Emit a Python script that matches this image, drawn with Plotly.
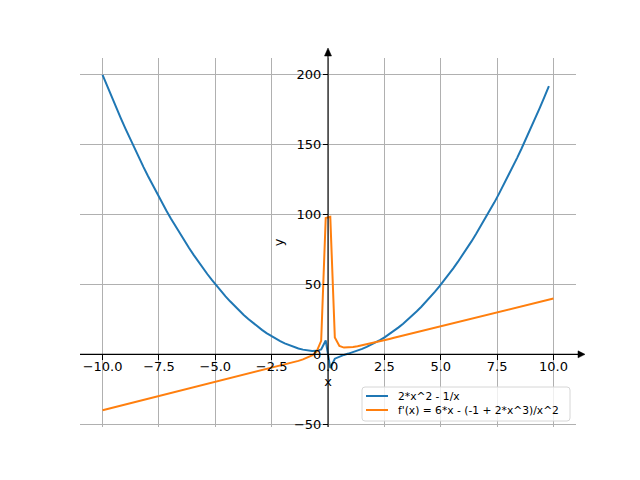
import plotly.graph_objects as go

# sample points (x) shared by both curves
x_values = [-10.0, -9.798, -9.596, -9.394, -9.192, -8.990, -8.788, -8.586, -8.384, -8.182,
            -7.980, -7.778, -7.576, -7.374, -7.172, -6.970, -6.768, -6.566, -6.364, -6.162,
            -5.960, -5.758, -5.556, -5.354, -5.152, -4.949, -4.747, -4.545, -4.343, -4.141,
            -3.939, -3.737, -3.535, -3.333, -3.131, -2.929, -2.727, -2.525, -2.323, -2.121,
            -1.919, -1.717, -1.515, -1.313, -1.111, -0.909, -0.707, -0.505, -0.303, -0.101,
            0.101, 0.303, 0.505, 0.707, 0.909, 1.111, 1.313, 1.515, 1.717, 1.919,
            2.121, 2.323, 2.525, 2.727, 2.929, 3.131, 3.333, 3.535, 3.737, 3.939,
            4.141, 4.343, 4.545, 4.747, 4.949, 5.152, 5.354, 5.556, 5.758, 5.960,
            6.162, 6.364, 6.566, 6.768, 6.970, 7.172, 7.374, 7.576, 7.778, 7.980,
            8.182, 8.384, 8.586, 8.788, 8.990, 9.192, 9.394, 9.596, 9.798, 10.0]

# 2*x^2 - 1/x (drawn for the first 99 sample points)
f_values = [200.10, 192.10, 184.27, 176.60, 169.09, 161.75, 154.56, 147.55, 140.70, 134.00,
            127.48, 121.12, 114.91, 108.88, 103.01, 97.29, 91.75, 86.37, 81.15, 76.09,
            71.20, 66.47, 61.91, 57.51, 53.27, 49.19, 45.29, 41.54, 37.96, 34.54,
            31.29, 28.21, 25.28, 22.52, 19.93, 17.50, 15.25, 13.15, 11.22, 9.47,
            7.89, 6.48, 5.25, 4.21, 3.37, 2.75, 2.41, 2.49, 3.48, 9.92,
            -9.88, -3.12, -1.47, -0.41, 0.55, 1.57, 2.69, 3.93, 5.32, 6.85,
            8.53, 10.36, 12.35, 14.51, 16.82, 19.29, 21.92, 24.72, 27.67, 30.79,
            34.06, 37.50, 41.10, 44.87, 48.79, 52.89, 57.13, 61.55, 66.13, 70.86,
            75.77, 80.83, 86.07, 91.45, 97.01, 102.73, 108.60, 114.65, 120.86, 127.22,
            133.76, 140.46, 147.31, 154.34, 161.53, 168.87, 176.38, 184.07, 191.90]

# f'(x) = 6*x - (-1 + 2*x^3)/x^2
df_values = [-39.99, -39.18, -38.37, -37.56, -36.76, -35.95, -35.14, -34.33, -33.52, -32.71,
             -31.90, -31.09, -30.29, -29.48, -28.67, -27.86, -27.05, -26.24, -25.43, -24.62,
             -23.81, -23.00, -22.19, -21.38, -20.57, -19.76, -18.95, -18.13, -17.32, -16.51,
             -15.69, -14.88, -14.06, -13.24, -12.42, -11.60, -10.77, -9.94, -9.11, -8.26,
             -7.40, -6.53, -5.63, -4.67, -3.63, -2.43, -0.83, 1.90, 9.68, 97.61,
             98.41, 12.10, 5.94, 4.83, 4.85, 5.25, 5.83, 6.50, 7.21, 7.95,
             8.71, 9.48, 10.26, 11.04, 11.83, 12.63, 13.42, 14.22, 15.02, 15.82,
             16.62, 17.43, 18.23, 19.03, 19.84, 20.64, 21.45, 22.25, 23.06, 23.87,
             24.67, 25.48, 26.29, 27.09, 27.90, 28.71, 29.51, 30.32, 31.13, 31.94,
             32.74, 33.55, 34.36, 35.16, 35.97, 36.78, 37.59, 38.39, 39.20, 40.01]

series_names = ["2*x^2 - 1/x", "f'(x) = 6*x - (-1 + 2*x^3)/x^2"]
series_colors = ["#1f77b4", "#ff7f0e"]
x_ticks = [-10.0, -7.5, -5.0, -2.5, 0.0, 2.5, 5.0, 7.5, 10.0]
y_ticks = [-50, 0, 50, 100, 150, 200]

X_RANGE = [-11.0, 11.0]
Y_RANGE = [-52.0, 212.1]

fig = go.Figure()
fig.add_trace(go.Scatter(x=x_values[:len(f_values)], y=f_values, mode="lines",
                         name=series_names[0], line=dict(color=series_colors[0], width=2),
                         showlegend=False))
fig.add_trace(go.Scatter(x=x_values, y=df_values, mode="lines",
                         name=series_names[1], line=dict(color=series_colors[1], width=2),
                         showlegend=False))

# page has an 8px body margin; compensate so the plot area sits at 80..576 x 58..427
W, H = 632, 472
ML, MR, MT, MB = 72, 64, 50, 53
pw = W - ML - MR
ph = H - MT - MB
PLOT_LEFT, PLOT_BOTTOM = 80, 427  # absolute window pixels


def px(xpix):
    return (xpix - PLOT_LEFT) / pw


def py(ypix):
    return (PLOT_BOTTOM - ypix) / ph


# spine positions in paper coordinates
y0p = (0 - Y_RANGE[0]) / (Y_RANGE[1] - Y_RANGE[0])
x0p = (0 - X_RANGE[0]) / (X_RANGE[1] - X_RANGE[0])

shapes = []
# x spine with arrow
shapes.append(dict(type="line", xref="paper", yref="paper", x0=0, x1=1 + 3 / pw, y0=y0p, y1=y0p,
                   line=dict(color="black", width=1.1)))
ax_base = 1 + 2 / pw
ax_tip = 1 + 9 / pw
hw = 3.5 / ph
shapes.append(dict(type="path", xref="paper", yref="paper",
                   path=f"M {ax_base} {y0p - hw} L {ax_tip} {y0p} L {ax_base} {y0p + hw} Z",
                   fillcolor="black", line=dict(color="black", width=0.5)))
# y spine with arrow
shapes.append(dict(type="line", xref="paper", yref="paper", x0=x0p, x1=x0p, y0=0, y1=1 + 3 / ph,
                   line=dict(color="black", width=1.1)))
ay_base = 1 + 2 / ph
ay_tip = 1 + 10 / ph
hwx = 3.5 / pw
shapes.append(dict(type="path", xref="paper", yref="paper",
                   path=f"M {x0p - hwx} {ay_base} L {x0p} {ay_tip} L {x0p + hwx} {ay_base} Z",
                   fillcolor="black", line=dict(color="black", width=0.5)))

# custom legend (matplotlib-like compact box)
lx0, lx1, ly0, ly1 = 362, 570, 387, 421
r = 3
shapes.append(dict(
    type="path", xref="paper", yref="paper",
    path=(f"M {px(lx0 + r)} {py(ly0)} L {px(lx1 - r)} {py(ly0)} "
          f"Q {px(lx1)} {py(ly0)} {px(lx1)} {py(ly0 + r)} "
          f"L {px(lx1)} {py(ly1 - r)} Q {px(lx1)} {py(ly1)} {px(lx1 - r)} {py(ly1)} "
          f"L {px(lx0 + r)} {py(ly1)} Q {px(lx0)} {py(ly1)} {px(lx0)} {py(ly1 - r)} "
          f"L {px(lx0)} {py(ly0 + r)} Q {px(lx0)} {py(ly0)} {px(lx0 + r)} {py(ly0)} Z"),
    fillcolor="rgba(255,255,255,0.8)", line=dict(color="#d6d6d6", width=1)))
annotations = []
row_y = [396, 410]
for name, color, yy in zip(series_names, series_colors, row_y):
    shapes.append(dict(type="line", xref="paper", yref="paper",
                       x0=px(366), x1=px(388), y0=py(yy), y1=py(yy),
                       line=dict(color=color, width=2)))
    annotations.append(dict(xref="paper", yref="paper", x=px(396), y=py(yy),
                            xanchor="left", yanchor="middle", showarrow=False,
                            text=name, font=dict(size=10.7, family="DejaVu Sans", color="black")))

fig.update_layout(
    width=W, height=H,
    margin=dict(l=ML, r=MR, t=MT, b=MB),
    paper_bgcolor="white", plot_bgcolor="white",
    font=dict(family="DejaVu Sans", size=13, color="black"),
    shapes=shapes,
    annotations=annotations,
    showlegend=False,
    xaxis=dict(range=X_RANGE, tickvals=x_ticks, tickformat=".1f",
               showgrid=True, gridcolor="#b0b0b0", gridwidth=1,
               zeroline=False, showline=False,
               anchor="free", position=y0p,
               ticks="outside", ticklen=5, tickwidth=1, tickcolor="black",
               ticklabelstandoff=-5,
               title=dict(text="x", standoff=3, font=dict(size=13))),
    yaxis=dict(range=Y_RANGE, tickvals=y_ticks,
               showgrid=True, gridcolor="#b0b0b0", gridwidth=1,
               zeroline=False, showline=False,
               anchor="free", position=x0p,
               ticks="outside", ticklen=5, tickwidth=1, tickcolor="black",
               ticklabelstandoff=-1,
               title=dict(text="y", standoff=6, font=dict(size=13))),
)

fig.write_html("out.html")
